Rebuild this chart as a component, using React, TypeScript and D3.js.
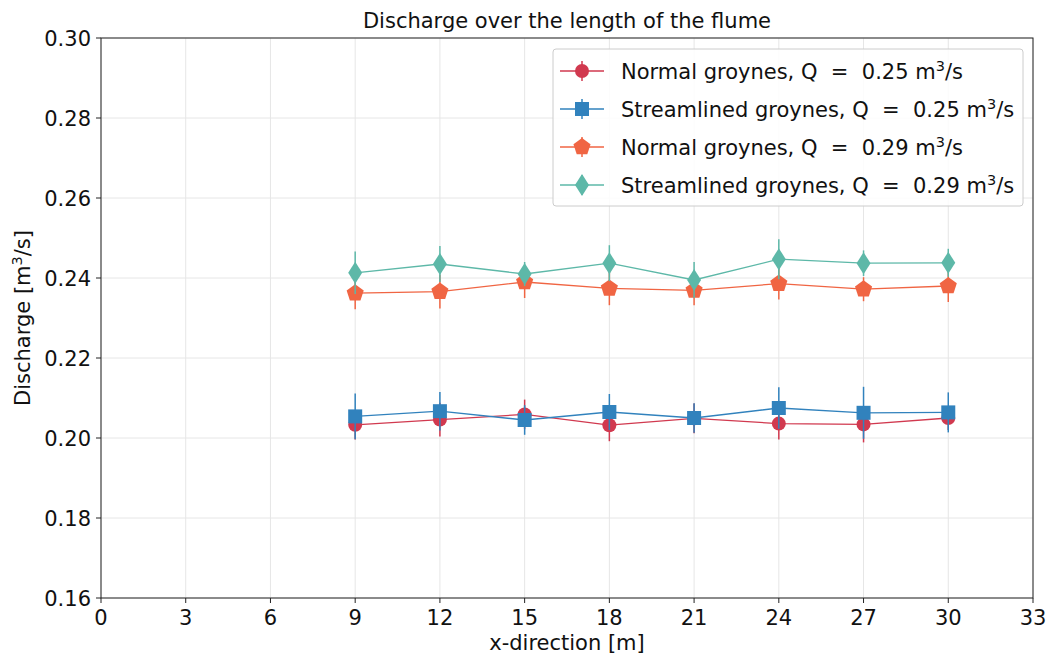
import React from "react";
import * as d3 from "d3";

const xs = [9, 12, 15, 18, 21, 24, 27, 30];
const normal025 = [0.2033, 0.2046, 0.2059, 0.2032, 0.2049, 0.2036, 0.2034, 0.2050];
const normal025Err = [0.0037, 0.0042, 0.0037, 0.0040, 0.0037, 0.0040, 0.0045, 0.0030];
const stream025 = [0.2054, 0.2067, 0.2045, 0.2065, 0.2050, 0.2075, 0.2063, 0.2064];
const stream025Err = [0.0057, 0.0048, 0.0037, 0.0045, 0.0037, 0.0052, 0.0065, 0.0050];
const normal029 = [0.2362, 0.2366, 0.2390, 0.2374, 0.2369, 0.2386, 0.2372, 0.2380];
const normal029Err = [0.0040, 0.0042, 0.0040, 0.0042, 0.0037, 0.0040, 0.0030, 0.0040];
const stream029 = [0.2413, 0.2435, 0.2410, 0.2437, 0.2395, 0.2447, 0.2437, 0.2438];
const stream029Err = [0.0053, 0.0045, 0.0030, 0.0045, 0.0045, 0.0050, 0.0032, 0.0035];

const xTicks = [0, 3, 6, 9, 12, 15, 18, 21, 24, 27, 30, 33];
const yTicks = [0.16, 0.18, 0.2, 0.22, 0.24, 0.26, 0.28, 0.3];

const seriesDefs = [
  { label: "Normal groynes, Q  =  0.25 m", values: normal025, errs: normal025Err, color: "#d1394f", marker: "circle" },
  { label: "Streamlined groynes, Q  =  0.25 m", values: stream025, errs: stream025Err, color: "#3182bd", marker: "square" },
  { label: "Normal groynes, Q  =  0.29 m", values: normal029, errs: normal029Err, color: "#f06543", marker: "pentagon" },
  { label: "Streamlined groynes, Q  =  0.29 m", values: stream029, errs: stream029Err, color: "#5db8a8", marker: "diamond" },
];

const W = 1051, H = 656;
const M = { left: 101, right: 1033, top: 38, bottom: 598 };
const FONT = "'DejaVu Sans', sans-serif";
const FS = 21;

function Marker({ type, x, y, color }: { type: string; x: number; y: number; color: string }) {
  if (type === "circle") return <circle cx={x} cy={y} r={7} fill={color} />;
  if (type === "square") return <rect x={x - 7} y={y - 7} width={14} height={14} fill={color} />;
  if (type === "pentagon") {
    const r = 9;
    const pts = d3.range(5).map((i) => {
      const a = -Math.PI / 2 + (i * 2 * Math.PI) / 5;
      return [x + r * Math.cos(a), y + r * Math.sin(a)].join(",");
    });
    return <polygon points={pts.join(" ")} fill={color} />;
  }
  return <polygon points={`${x},${y - 11} ${x + 7},${y} ${x},${y + 11} ${x - 7},${y}`} fill={color} />;
}

export default function App() {
  const x = d3.scaleLinear().domain([0, 33]).range([M.left, M.right]);
  const y = d3.scaleLinear().domain([0.16, 0.3]).range([M.bottom, M.top]);
  const line = d3.line<number>().x((_, i) => x(xs[i])).y((v) => y(v));

  return (
    <svg width={W} height={H} style={{ position: "absolute", left: 0, top: 0, fontFamily: FONT }}>
      <rect width={W} height={H} fill="white" />
      {xTicks.map((t) => (
        <line key={"gx" + t} x1={x(t)} x2={x(t)} y1={M.top} y2={M.bottom} stroke="#e6e6e6" strokeWidth={1} />
      ))}
      {yTicks.map((t) => (
        <line key={"gy" + t} x1={M.left} x2={M.right} y1={y(t)} y2={y(t)} stroke="#e6e6e6" strokeWidth={1} />
      ))}
      {seriesDefs.map((s) => (
        <g key={s.label}>
          <path d={line(s.values) || ""} fill="none" stroke={s.color} strokeWidth={1.3} />
          {s.values.map((v, i) => (
            <line key={i} x1={x(xs[i])} x2={x(xs[i])} y1={y(v - s.errs[i])} y2={y(v + s.errs[i])} stroke={s.color} strokeWidth={1.5} />
          ))}
          {s.values.map((v, i) => (
            <Marker key={"m" + i} type={s.marker} x={x(xs[i])} y={y(v)} color={s.color} />
          ))}
        </g>
      ))}
      <rect x={M.left} y={M.top} width={M.right - M.left} height={M.bottom - M.top} fill="none" stroke="#222" strokeWidth={1} />
      {xTicks.map((t) => (
        <g key={"tx" + t}>
          <line x1={x(t)} x2={x(t)} y1={M.bottom} y2={M.bottom + 5} stroke="#222" />
          <text x={x(t)} y={M.bottom + 27} textAnchor="middle" fontSize={FS} fill="#111">{t}</text>
        </g>
      ))}
      {yTicks.map((t) => (
        <g key={"ty" + t}>
          <line x1={M.left - 5} x2={M.left} y1={y(t)} y2={y(t)} stroke="#222" />
          <text x={M.left - 10} y={y(t) + 7.5} textAnchor="end" fontSize={FS} fill="#111">{t.toFixed(2)}</text>
        </g>
      ))}
      <text x={(M.left + M.right) / 2} y={28} textAnchor="middle" fontSize={FS} fill="#111">Discharge over the length of the flume</text>
      <text x={(M.left + M.right) / 2} y={650} textAnchor="middle" fontSize={FS} fill="#111">x-direction [m]</text>
      <text transform={`translate(30, ${(M.top + M.bottom) / 2}) rotate(-90)`} textAnchor="middle" fontSize={FS} fill="#111">
        Discharge [m<tspan dy={-8} fontSize={14.5}>3</tspan><tspan dy={8}>/s]</tspan>
      </text>
      <g>
        <rect x={553} y={49} width={470} height={157} rx={3} fill="white" fillOpacity={0.85} stroke="#cccccc" />
        {seriesDefs.map((s, i) => {
          const ly = 71 + i * 38;
          return (
            <g key={"lg" + i}>
              <line x1={560} x2={604} y1={ly} y2={ly} stroke={s.color} strokeWidth={1.3} />
              <line x1={582} x2={582} y1={ly - 10} y2={ly + 10} stroke={s.color} strokeWidth={1.5} />
              <Marker type={s.marker} x={582} y={ly} color={s.color} />
              <text x={621} y={ly + 7.5} fontSize={FS} fill="#111" style={{ whiteSpace: "pre" }}>
                {s.label}<tspan dy={-8} fontSize={14.5}>3</tspan><tspan dy={8}>/s</tspan>
              </text>
            </g>
          );
        })}
      </g>
    </svg>
  );
}
